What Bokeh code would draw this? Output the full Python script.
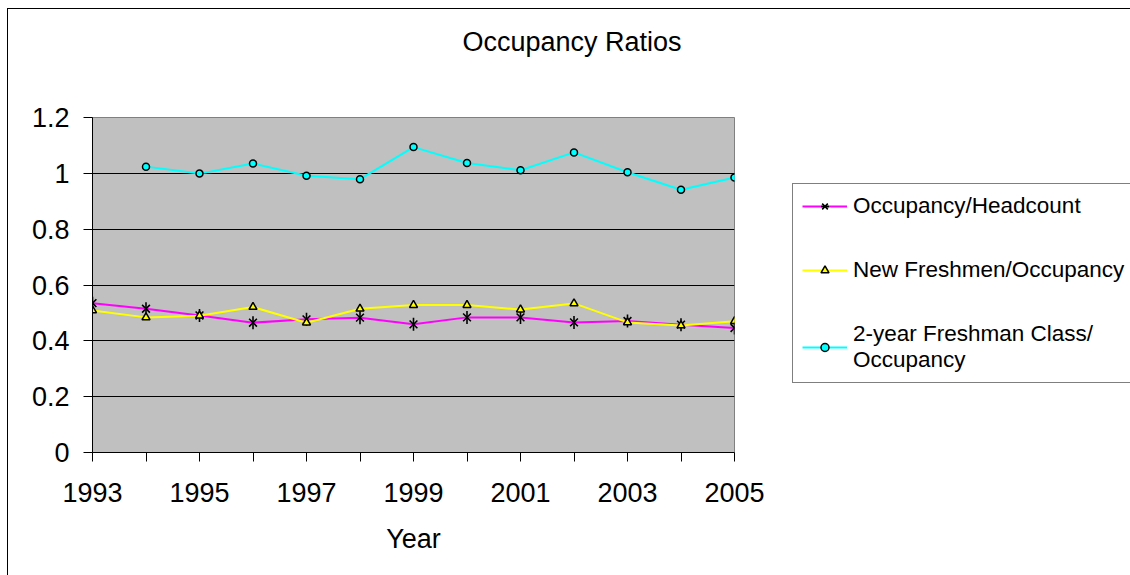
from bokeh.plotting import figure
from bokeh.layouts import row
from bokeh.models import (Legend, LegendItem, FixedTicker, NumeralTickFormatter,
                          Range1d, Title)
from bokeh.embed import file_html
from bokeh.resources import INLINE

# ---- data ----
years = [1993, 1994, 1995, 1996, 1997, 1998, 1999, 2000, 2001, 2002, 2003, 2004, 2005]
occupancy_headcount = [0.535, 0.515, 0.491, 0.465, 0.477, 0.483, 0.459, 0.484, 0.484,
                       0.466, 0.471, 0.458, 0.446]
new_freshmen_occupancy = [0.509, 0.484, 0.490, 0.521, 0.465, 0.515, 0.528, 0.528, 0.512,
                          0.534, 0.466, 0.455, 0.470]
two_year_years = [1994, 1995, 1996, 1997, 1998, 1999, 2000, 2001, 2002, 2003, 2004, 2005]
two_year_freshman_occupancy = [1.024, 0.999, 1.035, 0.991, 0.979, 1.094, 1.037, 1.011,
                               1.075, 1.004, 0.941, 0.985]
y_ticks = [0, 0.2, 0.4, 0.6, 0.8, 1.0, 1.2]
x_labeled_years = [1993, 1995, 1997, 1999, 2001, 2003, 2005]
series_names = ["Occupancy/Headcount", "New Freshmen/Occupancy",
                "2-year Freshman Class/\nOccupancy"]

FONT = "Liberation Sans"
MAGENTA, YELLOW, CYAN = "#FF00FF", "#FFFF00", "#00FFFF"

# ---------------- main chart ----------------
p = figure(width=792, height=575, output_backend="svg", toolbar_location=None,
           title=None,
           x_range=Range1d(1993, 2005), y_range=Range1d(0, 1.2),
           min_border_left=92, min_border_right=58, min_border_top=117,
           min_border_bottom=123,
           styles={"box-shadow": "inset 7px 8px 0 0 #fff, inset 8px 9px 0 0 #000"})

p.background_fill_color = "#C0C0C0"
p.border_fill_color = None
p.outline_line_color = "#808080"
p.outline_line_width = 1

# spacer between title and plot area, then the title itself
spacer = Title(text=" ", text_font_size="2px", standoff=52)
p.add_layout(spacer, "above")
main_title = Title(text="Occupancy Ratios", align="left", offset=370, standoff=10,
                   text_font=FONT, text_font_size="27px", text_font_style="normal",
                   text_color="black")
p.add_layout(main_title, "above")

# grids
p.xgrid.visible = False
p.ygrid.ticker = FixedTicker(ticks=y_ticks)
p.ygrid.grid_line_color = "black"
p.ygrid.grid_line_width = 1

# y axis
ya = p.yaxis[0]
ya.ticker = FixedTicker(ticks=y_ticks)
ya.formatter = NumeralTickFormatter(format="0.[0]")
ya.axis_line_color = "black"
ya.major_tick_line_color = "black"
ya.major_tick_out = 9
ya.major_tick_in = 0
ya.minor_tick_line_color = None
ya.major_label_text_font = FONT
ya.major_label_text_font_size = "27px"
ya.major_label_text_color = "black"
ya.major_label_standoff = 14

# x axis
xa = p.xaxis[0]
xa.ticker = FixedTicker(ticks=years)
xa.major_label_overrides = {y: (str(y) if y in x_labeled_years else "") for y in years}
xa.axis_line_color = "black"
xa.major_tick_line_color = "black"
xa.major_tick_out = 9
xa.major_tick_in = 0
xa.minor_tick_line_color = None
xa.major_label_text_font = FONT
xa.major_label_text_font_size = "27px"
xa.major_label_text_color = "black"
xa.major_label_standoff = 21
xa.axis_label = "Year"
xa.axis_label_text_font = FONT
xa.axis_label_text_font_size = "27px"
xa.axis_label_text_font_style = "normal"
xa.axis_label_text_color = "black"
xa.axis_label_standoff = 19


def draw_series(fig, x1, y1, x2, y2, x3, y3):
    r = {}
    r["l1"] = fig.line(x1, y1, line_color=MAGENTA, line_width=2)
    r["m1a"] = fig.scatter(x1, y1, marker="x", size=11, line_color="black", line_width=1.6)
    r["m1b"] = fig.scatter(x1, y1, marker="dash", size=13, angle=1.5708,
                           line_color="black", line_width=1.6)
    r["l2"] = fig.line(x2, y2, line_color=YELLOW, line_width=2)
    r["m2"] = fig.scatter(x2, y2, marker="triangle", size=8, line_color="black",
                          fill_color=YELLOW, line_width=1.5)
    r["l3"] = fig.line(x3, y3, line_color=CYAN, line_width=2)
    r["m3"] = fig.scatter(x3, y3, marker="circle", size=7, line_color="black",
                          fill_color=CYAN, line_width=1.5)
    return r


draw_series(p, years, occupancy_headcount, years, new_freshmen_occupancy,
            two_year_years, two_year_freshman_occupancy)

# ---------------- legend panel ----------------
# same series drawn again, out of view, only to feed the legend samples
q = figure(width=338, height=575, output_backend="svg", toolbar_location=None,
           title=None, x_axis_type=None, y_axis_type=None,
           x_range=Range1d(0, 1), y_range=Range1d(0, 1),
           min_border_left=0, min_border_right=0, min_border_top=117,
           min_border_bottom=123,
           styles={"box-shadow": "inset 0 8px 0 0 #fff, inset 0 9px 0 0 #000"})
q.xgrid.visible = False
q.ygrid.visible = False
q.background_fill_color = None
q.border_fill_color = None
q.outline_line_color = None

s = draw_series(q, years, occupancy_headcount, years, new_freshmen_occupancy,
                two_year_years, two_year_freshman_occupancy)

legend = Legend(items=[
    LegendItem(label=series_names[0], renderers=[s["l1"], s["m1a"], s["m1b"]]),
    LegendItem(label=series_names[1], renderers=[s["l2"], s["m2"]]),
    LegendItem(label=series_names[2], renderers=[s["l3"], s["m3"]]),
], location=(0, 69))
legend.border_line_color = "black"
legend.border_line_width = 1
legend.background_fill_color = "white"
legend.background_fill_alpha = 1
legend.label_text_font = FONT
legend.label_text_font_size = "22.5px"
legend.label_text_color = "black"
legend.glyph_width = 45
legend.glyph_height = 20
legend.label_standoff = 6
legend.padding = 9
legend.spacing = 38
legend.margin = 0
legend.label_width = 20
q.add_layout(legend, "center")

layout = row(p, q, spacing=0)

open("out.html", "w").write(file_html(layout, INLINE))
